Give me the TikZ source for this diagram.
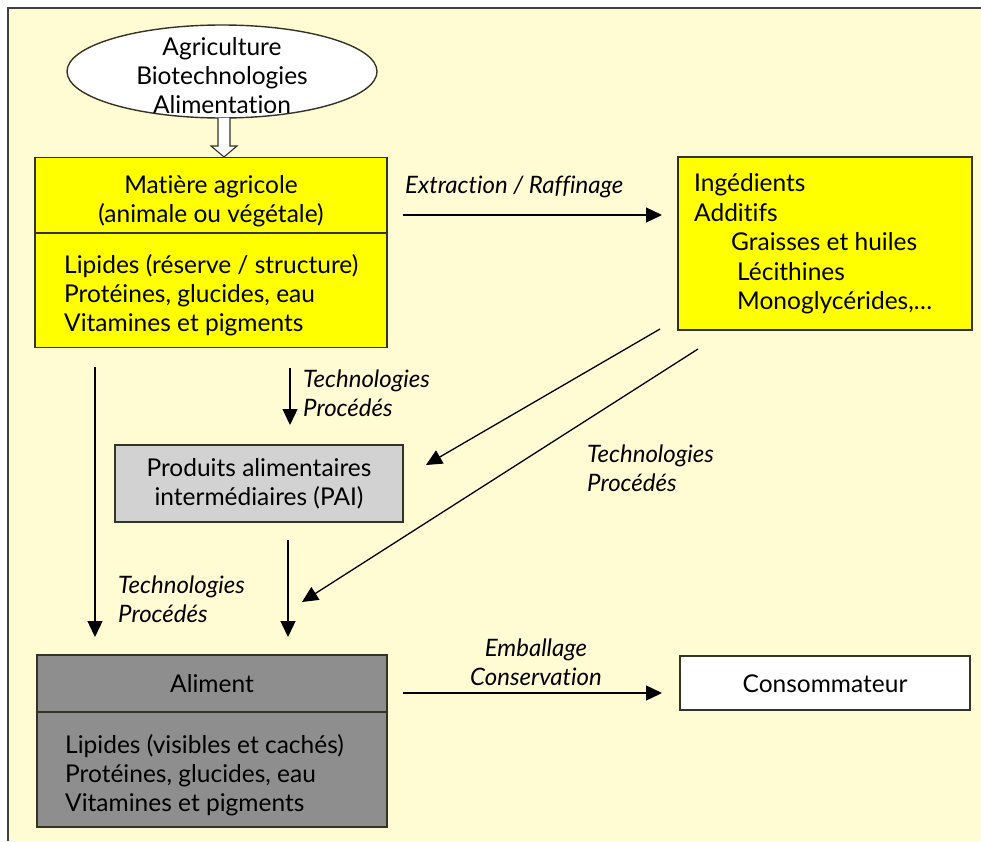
\documentclass[tikz,border=0pt]{standalone}
\usepackage{fontspec}
\setmainfont{Lato}[Ligatures=NoCommon]
\usetikzlibrary{arrows.meta,shapes.geometric}
\definecolor{bgc}{HTML}{FFFCD4}
\definecolor{yel}{HTML}{FFFF00}
\definecolor{lgray}{HTML}{D2D2D2}
\definecolor{dgray}{HTML}{8E8E8E}
\definecolor{edge}{HTML}{333326}
\tikzset{
  box/.style={draw=edge, line width=1.6pt, inner sep=0pt, rectangle},
  txt/.style={inner sep=0pt, font=\fontsize{24.5}{29}\selectfont},
  itl/.style={inner sep=0pt, font=\fontsize{24}{29.5}\selectfont\itshape, align=left, anchor=west},
  arr/.style={line width=1.3pt, -{Triangle[length=16pt,width=15pt]}},
}
\begin{document}
\begin{tikzpicture}[x=1pt,y=-1pt]
\useasboundingbox (0,0) rectangle (981,841);
\fill[white] (0,0) rectangle (981,841);
\fill[bgc] (8,8) rectangle (981,841);
\draw[line width=2pt, color=black!75] (8,841) -- (8,8) -- (981,8);

% ellipse
\node[ellipse, draw=edge, line width=1.4pt, fill=white, minimum width=310pt, minimum height=93pt, inner sep=0pt] (agri) at (222,71.5) {};
\node[txt, align=center] (agrit) at (222,76) {Agriculture\\Biotechnologies\\Alimentation};

% Matiere box
\node[box, fill=yel, minimum width=352pt, minimum height=190pt] (mat) at (211,252.5) {};
\draw[edge, line width=1.4pt] (mat.west |- 0,233) -- (mat.east |- 0,233);
\node[txt, align=center] (matt) at (211,201) {Matière agricole\\(animale ou végétale)};
\node[txt, align=left, anchor=west] (matl) at (64,295) {Lipides (réserve / structure)\\Protéines, glucides, eau\\Vitamines et pigments};

% hollow arrow
\draw[edge, line width=1.1pt, fill=white] (218,118) -- (218,146) -- (211,146) -- (224,157) -- (237,146) -- (230,146) -- (230,118);

% Ingredients box
\node[box, fill=yel, minimum width=294pt, minimum height=173pt] (ing) at (825,243.5) {};
\node[txt, align=left, anchor=west, font=\fontsize{24.5}{29.5}\selectfont] (ingt) at (694,244) {Ingédients\\Additifs\\\hspace*{37pt}Graisses et huiles\\\hspace*{43pt}Lécithines\\\hspace*{43pt}Monoglycérides,\dots};

% PAI box
\node[box, fill=lgray, minimum width=288pt, minimum height=77pt] (pai) at (259,483.5) {};
\node[txt, align=center] (pait) at (259,484) {Produits alimentaires\\intermédiaires (PAI)};

% Aliment box
\node[box, fill=dgray, minimum width=350pt, minimum height=172pt] (ali) at (212,741) {};
\draw[edge, line width=1.4pt] (ali.west |- 0,712) -- (ali.east |- 0,712);
\node[txt] (alit) at (212,684) {Aliment};
\node[txt, align=left, anchor=west] (alil) at (65,775) {Lipides (visibles et cachés)\\Protéines, glucides, eau\\Vitamines et pigments};

% Consommateur box
\node[box, fill=white, minimum width=290pt, minimum height=54pt] (cons) at (825,683) {};
\node[txt] (const) at (825,684) {Consommateur};

% arrow coordinates
\coordinate (e1) at (403,215);
\coordinate (e2) at (662,215);
\coordinate (v1a) at (95,367);
\coordinate (v1b) at (95,637);
\coordinate (v2a) at (290,368);
\coordinate (v2b) at (290,425);
\coordinate (v3a) at (288,540);
\coordinate (v3b) at (288,637);
\coordinate (d1a) at (660,329);
\coordinate (d1b) at (426,465);
\coordinate (d2a) at (698,349);
\coordinate (d2b) at (302,602);
\coordinate (c1) at (403,693);
\coordinate (c2) at (662,693);

\draw[arr] (e1) -- (e2);
\draw[arr] (v1a) -- (v1b);
\draw[arr] (v2a) -- (v2b);
\draw[arr] (v3a) -- (v3b);
\draw[arr] (d1a) -- (d1b);
\draw[arr] (d2a) -- (d2b);
\draw[arr] (c1) -- (c2);

% labels
\node[itl] (lext) at (405,187) {Extraction / Raffinage};
\node[itl] (lt1) at (303,393) {Technologies\\Procédés};
\node[itl] (lt2) at (587,468) {Technologies\\Procédés};
\node[itl] (lt3) at (118,599) {Technologies\\Procédés};
\node[txt, align=center, font=\fontsize{24}{29.5}\selectfont\itshape] (lemb) at (536,662) {Emballage\\Conservation};
\end{tikzpicture}
\end{document}
